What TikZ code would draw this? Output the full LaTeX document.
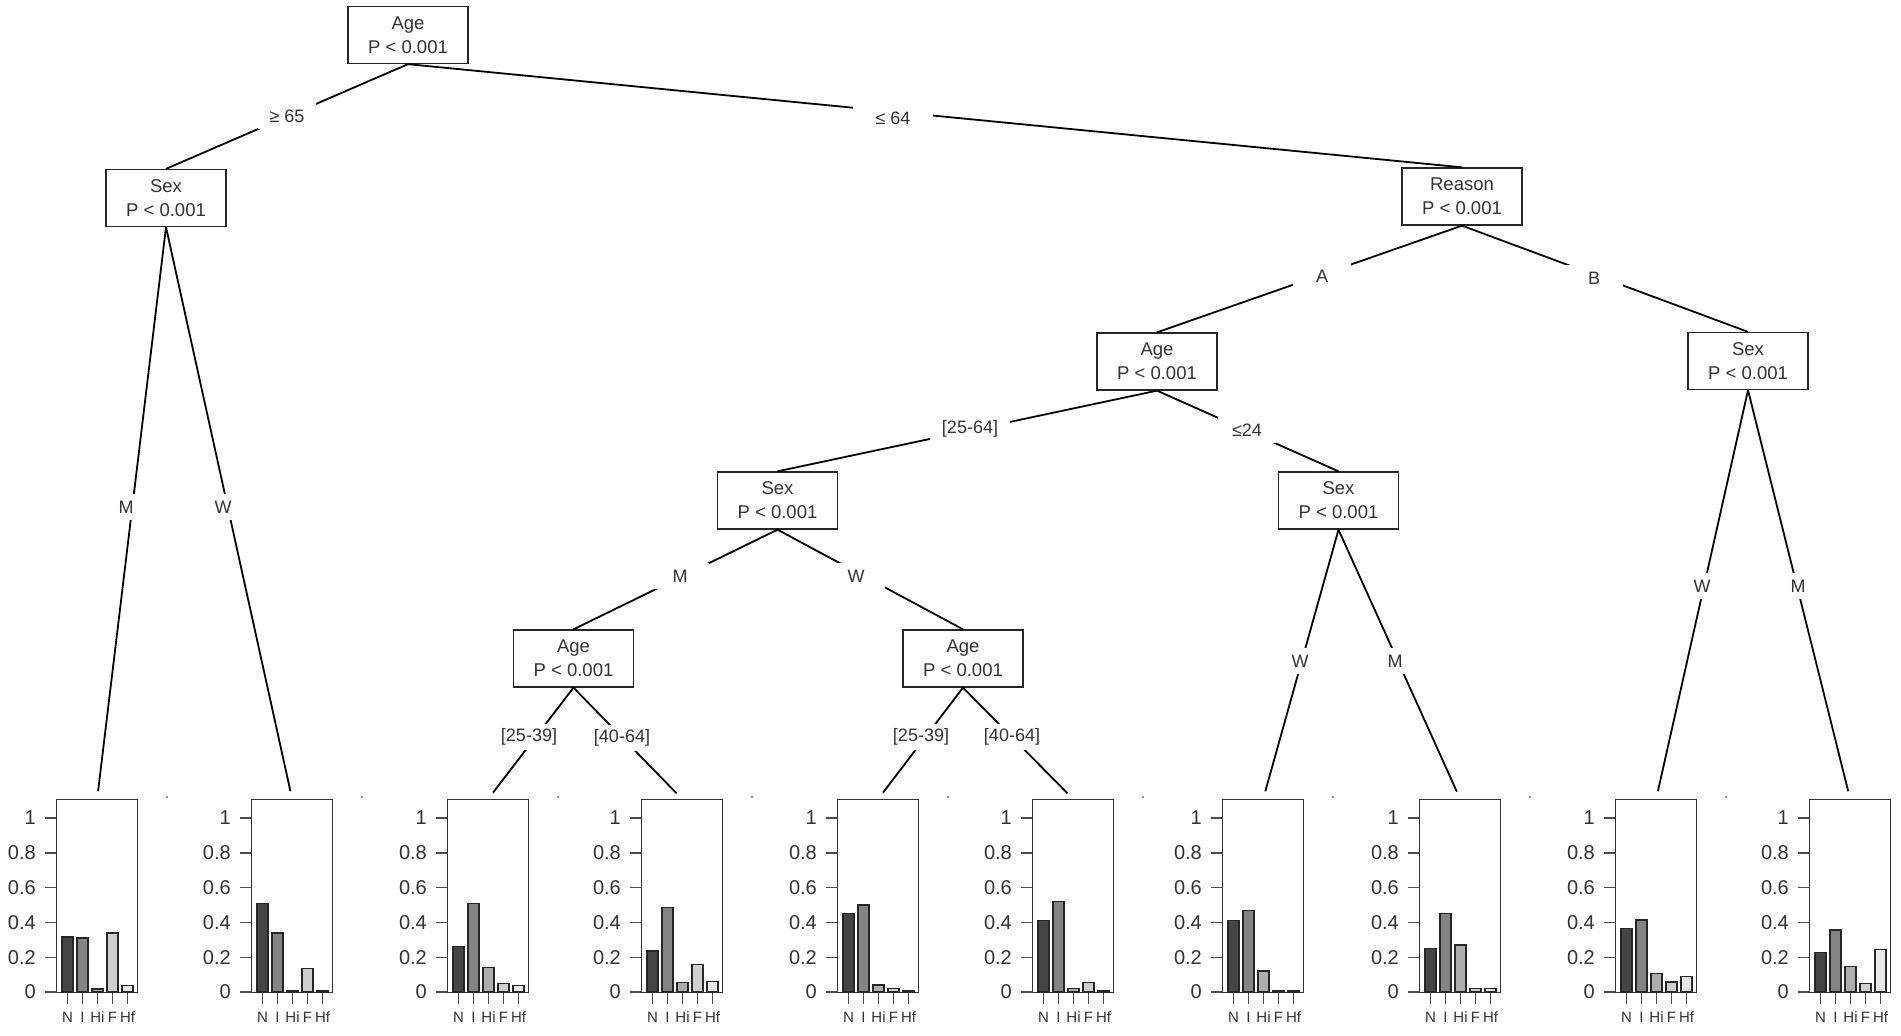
\documentclass[tikz,border=0pt]{standalone}
\usepackage{fontspec}
\setmainfont{Liberation Sans}
\definecolor{txt}{HTML}{333333}
\definecolor{gN}{HTML}{454545}
\definecolor{gI}{HTML}{848484}
\definecolor{gHi}{HTML}{AEAEAE}
\definecolor{gF}{HTML}{CFCFCF}
\definecolor{gHf}{HTML}{E9E9E9}
\tikzset{
  tnode/.style={draw=black!85, line width=1.3pt, fill=white, minimum width=120pt, minimum height=57pt,
    align=center, inner sep=2pt, text=txt, font=\fontsize{18.5}{24}\selectfont},
  edge/.style={line width=1.8pt, black},
  elab/.style={fill=white, minimum width=58pt, minimum height=26pt, inner sep=2pt, text=txt,
    font=\fontsize{18}{20}\selectfont},
  panelbox/.style={draw=black!80, line width=1.3pt, anchor=north west, minimum width=81pt,
    minimum height=193pt, inner sep=0pt},
  tickline/.style={line width=1.4pt, black!70},
  barline/.style={line width=1.3pt, black!85},
  ylab/.style={anchor=east, inner sep=0pt, text=black!80, font=\fontsize{20}{20}\selectfont},
  xlab/.style={anchor=center, inner sep=0pt, text=txt, font=\fontsize{15}{15}\selectfont},
}
\newcommand{\pbar}[4]{%
  \draw[barline, fill=#4] ({#1+6+15*#2},992) rectangle ++(11,{-174*#3});
  \draw[tickline] ({#1+11.5+15*#2},993) -- ++(0,11);
}
\newcommand{\drawpanel}[7]{%
  \node[panelbox] (#1) at (#2,799) {};
  \foreach \v/\l in {0/0,0.2/0.2,0.4/0.4,0.6/0.6,0.8/0.8,1/1}{
    \draw[tickline] ({#2-11},{992-174*\v}) -- ({#2},{992-174*\v});
    \node[ylab] at ({#2-20},{992-174*\v}) {\l};
  }
  \pbar{#2}{0}{#3}{gN}
  \pbar{#2}{1}{#4}{gI}
  \pbar{#2}{2}{#5}{gHi}
  \pbar{#2}{3}{#6}{gF}
  \pbar{#2}{4}{#7}{gHf}
  \node[xlab] at ({#2+11.5},1017) {N};
  \node[xlab] at ({#2+26.5},1017) {I};
  \node[xlab] at ({#2+41.5},1017) {Hi};
  \node[xlab] at ({#2+56.5},1017) {F};
  \node[xlab] at ({#2+71.5},1017) {Hf};
}
\begin{document}
\begin{tikzpicture}[x=1pt,y=-1pt]
\useasboundingbox[fill=white] (0,0) rectangle (1901,1036);
% tree nodes
\node[tnode] (age1) at (408,35) {Age\\P < 0.001};
\node[tnode] (sex1) at (166,198) {Sex\\P < 0.001};
\node[tnode] (rea) at (1462,196.5) {Reason\\P < 0.001};
\node[tnode] (age2) at (1157,361.5) {Age\\P < 0.001};
\node[tnode] (sexB) at (1748,361) {Sex\\P < 0.001};
\node[tnode] (sex2) at (777.5,500.5) {Sex\\P < 0.001};
\node[tnode] (sex3) at (1338.5,500.5) {Sex\\P < 0.001};
\node[tnode] (age3) at (573.5,658.5) {Age\\P < 0.001};
\node[tnode] (age4) at (963,658.5) {Age\\P < 0.001};
% panels
\drawpanel{p1}{56}{0.316}{0.31}{0.017}{0.34}{0.036}
\drawpanel{p2}{251}{0.51}{0.34}{0.01}{0.136}{0.01}
\drawpanel{p3}{447}{0.26}{0.51}{0.14}{0.05}{0.036}
\drawpanel{p4}{641}{0.236}{0.486}{0.055}{0.16}{0.06}
\drawpanel{p5}{837}{0.45}{0.5}{0.04}{0.02}{0.01}
\drawpanel{p6}{1032}{0.41}{0.52}{0.02}{0.055}{0.01}
\drawpanel{p7}{1222}{0.41}{0.47}{0.12}{0.01}{0.01}
\drawpanel{p8}{1419}{0.25}{0.45}{0.27}{0.02}{0.02}
\drawpanel{p9}{1615}{0.366}{0.414}{0.107}{0.057}{0.088}
\drawpanel{p10}{1809}{0.226}{0.356}{0.145}{0.05}{0.245}
% small dots
\foreach \px in {56,251,447,641,837,1032,1222,1419,1615}{
  \fill[black!45] ({\px+111},797) circle[radius=1.3pt];
}
% edges
\draw[edge] (age1.south) -- (sex1.north);
\draw[edge] (age1.south) -- (rea.north);
\draw[edge, shorten >=8pt] (sex1.south) -- (p1.north);
\draw[edge, shorten >=8pt] (sex1.south) -- (p2.north);
\draw[edge] (rea.south) -- (age2.north);
\draw[edge] (rea.south) -- (sexB.north);
\draw[edge] (age2.south) -- (sex2.north);
\draw[edge] (age2.south) -- (sex3.north);
\draw[edge] (sex2.south) -- (age3.north);
\draw[edge] (sex2.south) -- (age4.north);
\draw[edge, shorten >=8pt] (age3.south) -- (p3.north);
\draw[edge, shorten >=8pt] (age3.south) -- (p4.north);
\draw[edge, shorten >=8pt] (age4.south) -- (p5.north);
\draw[edge, shorten >=8pt] (age4.south) -- (p6.north);
\draw[edge, shorten >=8pt] (sex3.south) -- (p7.north);
\draw[edge, shorten >=8pt] (sex3.south) -- (p8.north);
\draw[edge, shorten >=8pt] (sexB.south) -- (p9.north);
\draw[edge, shorten >=8pt] (sexB.south) -- (p10.north);
% edge labels
\node[elab] (l1) at (287,116) {≥ 65};
\node[elab, minimum width=80pt] (l2) at (893,118) {≤ 64};
\node[elab] (l3) at (126,507) {M};
\node[elab] (l4) at (223,507) {W};
\node[elab] (l5) at (1322,276) {A};
\node[elab] (l6) at (1594,278) {B};
\node[elab, minimum width=80pt] (l7) at (970,429) {[25-64]};
\node[elab] (l8) at (1247,430) {≤24};
\node[elab] (l9) at (680,576) {M};
\node[elab] (l10) at (856,576) {W};
\node[elab] (l11) at (529,737) {[25-39]};
\node[elab] (l12) at (622,738) {[40-64]};
\node[elab] (l13) at (921,737) {[25-39]};
\node[elab] (l14) at (1012,737) {[40-64]};
\node[elab] (l15) at (1300,661) {W};
\node[elab] (l16) at (1395,661) {M};
\node[elab] (l17) at (1702,586) {W};
\node[elab] (l18) at (1798,586) {M};
\end{tikzpicture}
\end{document}
